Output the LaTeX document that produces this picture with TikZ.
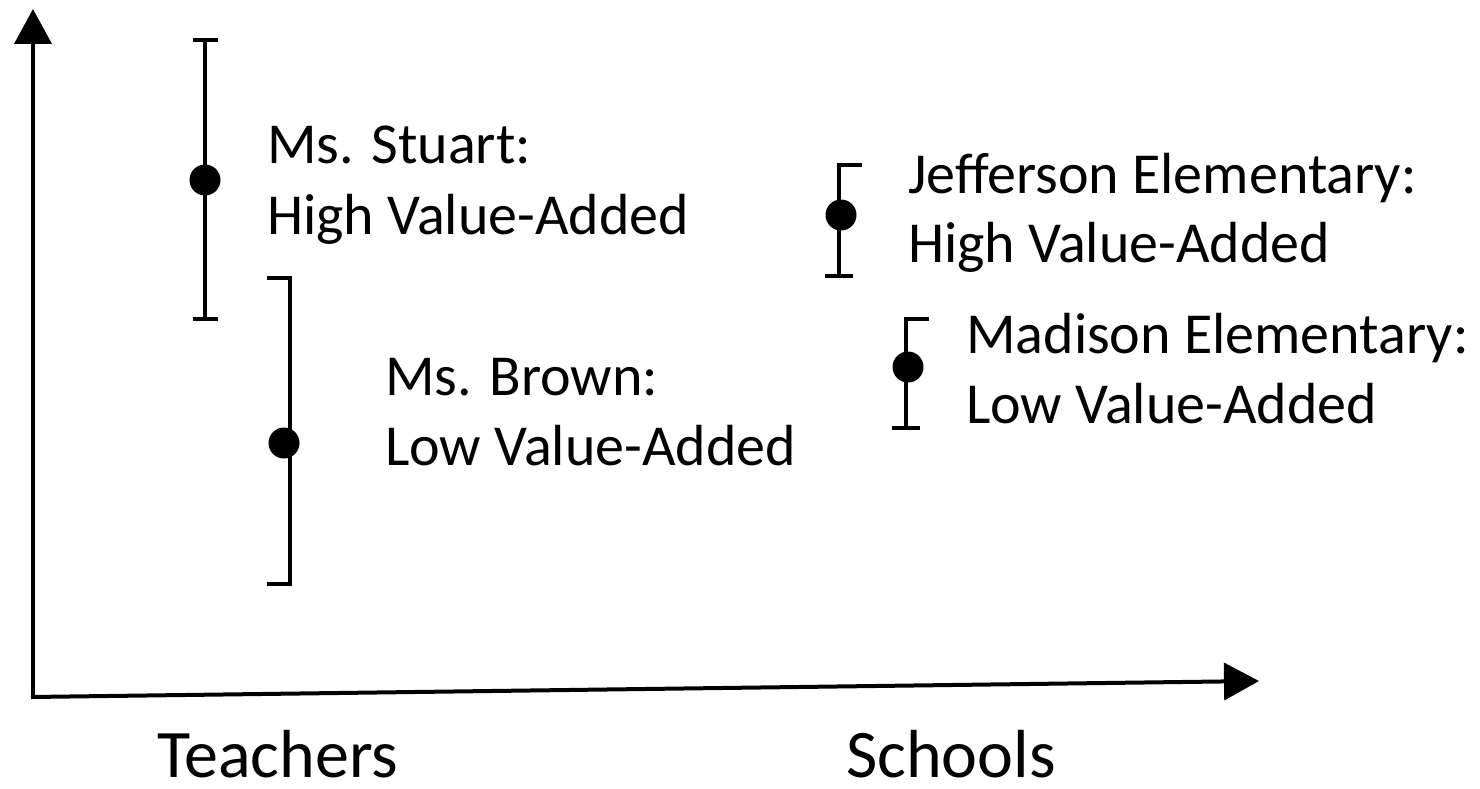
\documentclass[tikz,border=0pt]{standalone}
\usepackage{fontspec}
\setmainfont{Carlito}
\usetikzlibrary{arrows.meta}
\begin{document}
\begin{tikzpicture}[x=1pt,y=-1pt,
  axis/.style={line width=4pt, -{Triangle[length=35pt,width=37pt]}},
  bar/.style={line width=3.5pt},
  dot/.style={circle, fill=black, inner sep=0pt, minimum size=31pt},
  lbl/.style={anchor=base west, inner sep=0pt, font=\fontsize{58}{70}\selectfont},
  axlbl/.style={anchor=base west, inner sep=0pt, text depth=0pt, font=\fontsize{68}{80}\selectfont}]
\useasboundingbox (0,0) rectangle (1480,789);
% axes
\coordinate (O) at (33,697);
\coordinate (Ytip) at (33,9);
\coordinate (Xtip) at (1259,681);
\draw[axis] (O) -- (Ytip);
\draw[axis] ([xshift=-2pt]O) -- (Xtip);
% Ms. Stuart
\draw[bar] (193,40) -- (218,40) (205,40) -- (205,319) (193,319) -- (218,319);
\node[dot] (dstuart) at (205,180) {};
% Ms. Brown
\draw[bar] (267,278) -- (290,278) -- (290,584) -- (267,584);
\node[dot] (dbrown) at (284,443) {};
% Jefferson
\draw[bar] (862,165) -- (839,165) -- (839,276) (825,276) -- (853,276);
\node[dot] (djeff) at (841,215) {};
% Madison
\draw[bar] (929,319) -- (906,319) -- (906,428) (892,428) -- (920,428);
\node[dot] (dmad) at (908,367) {};
% labels
\node[lbl] (stuart1) at (267,163) {Ms. Stuart:};
\node[lbl] (stuart2) at (267,234) {High Value-Added};
\node[lbl] (brown1) at (385,395) {Ms. Brown:};
\node[lbl] (brown2) at (385,465) {Low Value-Added};
\node[lbl] (jeff1) at (908,193) {Jefferson Elementary:};
\node[lbl] (jeff2) at (908,262) {High Value-Added};
\node[lbl] (mad1) at (966,353) {Madison Elementary:};
\node[lbl] (mad2) at (966,423) {Low Value-Added};
\node[axlbl] (teachers) at (157,777) {Teachers};
\node[axlbl] (schools) at (846,777) {Schools};
\end{tikzpicture}
\end{document}
